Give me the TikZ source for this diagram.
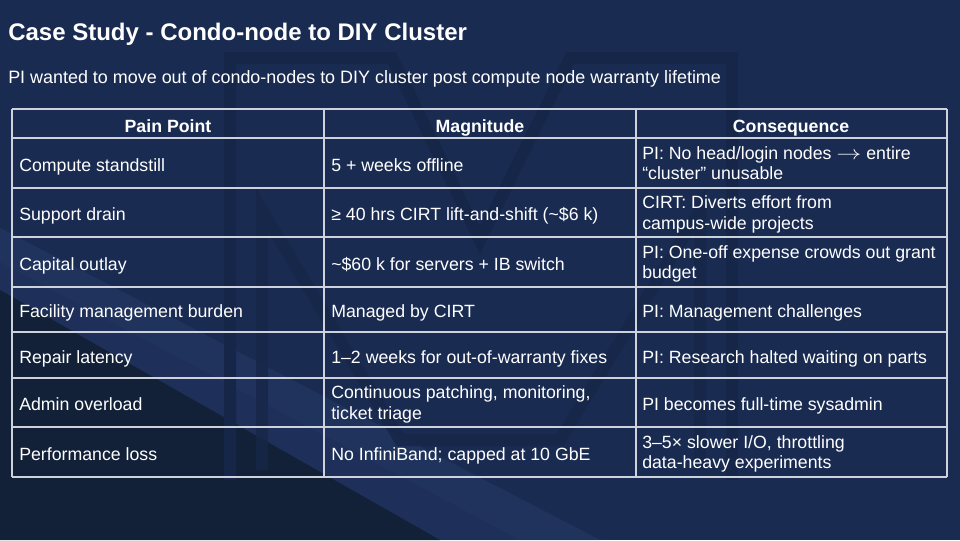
\documentclass[tikz,border=0pt]{standalone}
\usepackage{fontspec}
\setmainfont{Liberation Sans}
\newcommand{\longarr}{\scalebox{1.3}[1]{$\rightarrow$}}
\begin{document}
\begin{tikzpicture}[x=0.75pt,y=-0.75pt,
  cell/.style={anchor=west,inner sep=0pt,text=white,align=left,font=\fontsize{13.3}{15.5}\selectfont},
  head/.style={anchor=base,inner sep=0pt,text=white,font=\fontsize{13.3}{15.5}\selectfont\bfseries},
  grid/.style={draw=tline,line width=1pt},
  logo/.style={draw=logoc,line width=9pt,line join=miter}]
\definecolor{bgc}{RGB}{26,43,82}
\definecolor{darkc}{RGB}{18,33,56}
\definecolor{streak}{RGB}{40,62,108}
\definecolor{logoc}{RGB}{22,38,72}
\definecolor{tline}{RGB}{205,210,220}
\useasboundingbox (0,0) rectangle (960,540);
\fill[bgc] (0,0) rectangle (960,540);
% diagonal streaks and dark lower-left
\fill[streak,opacity=0.45] (0,228) -- (0,262) -- (520,540) -- (600,540) -- cycle;
\fill[streak,opacity=0.3] (0,262) -- (0,290) -- (440,540) -- (520,540) -- cycle;
\fill[darkc] (0,290) -- (0,540) -- (440,540) -- cycle;
% faint block-M logo outline
\draw[logo] (230,480) -- (230,58) -- (392,58) -- (480,240) -- (570,58) -- (732,58) -- (732,480);
\draw[logo,opacity=0.8] (262,470) -- (262,210) -- (400,440) -- (560,440) -- (700,210) -- (700,470);

% title and subtitle
\node[anchor=base west,inner sep=0pt,text=white,font=\fontsize{18}{22}\selectfont\bfseries] (title) at (8,40) {Case Study - Condo-node to DIY Cluster};
\node[anchor=base west,inner sep=0pt,text=white,font=\fontsize{13.45}{16}\selectfont] (sub) at (8,83.5) {PI wanted to move out of condo-nodes to DIY cluster post compute node warranty lifetime};

% table grid
\foreach \yy in {109,138,188,237,287,332,378,427,477} \draw[grid] (12,\yy) -- (947,\yy);
\foreach \xx in {12,324,636,947} \draw[grid] (\xx,109) -- (\xx,477);

% header
\node[head] (h1) at (168,132) {Pain Point};
\node[head] (h2) at (480,132) {Magnitude};
\node[head] (h3) at (791,132) {Consequence};

% column 1
\node[cell] (a1) at (19,167) {\strut Compute standstill};
\node[cell] (a2) at (19,216.5) {\strut Support drain};
\node[cell] (a3) at (19,266) {\strut Capital outlay};
\node[cell] (a4) at (19,313.5) {\strut Facility management burden};
\node[cell] (a5) at (19,359) {\strut Repair latency};
\node[cell] (a6) at (19,406.5) {\strut Admin overload};
\node[cell] (a7) at (19,456) {\strut Performance loss};

% column 2
\node[cell] (b1) at (331,167) {\strut 5 + weeks offline};
\node[cell] (b2) at (331,216.5) {\strut ≥ 40 hrs CIRT lift-and-shift (\textasciitilde\$6 k)};
\node[cell] (b3) at (331,266) {\strut \textasciitilde\$60 k for servers + IB switch};
\node[cell] (b4) at (331,313.5) {\strut Managed by CIRT};
\node[cell] (b5) at (331,359) {\strut 1–2 weeks for out-of-warranty fixes};
\node[cell] (b6) at (331,405) {\strut Continuous patching, monitoring,\\\strut ticket triage};
\node[cell] (b7) at (331,456) {\strut No InfiniBand; capped at 10 GbE};

% column 3
\node[cell] (c1) at (642,165.5) {\strut PI: No head/login nodes \longarr\ entire\\\strut “cluster” unusable};
\node[cell] (c2) at (642,215) {\strut CIRT: Diverts effort from\\\strut campus-wide projects};
\node[cell] (c3) at (642,264.5) {\strut PI: One-off expense crowds out grant\\\strut budget};
\node[cell] (c4) at (642,313.5) {\strut PI: Management challenges};
\node[cell] (c5) at (642,359) {\strut PI: Research halted waiting on parts};
\node[cell] (c6) at (642,406.5) {\strut PI becomes full-time sysadmin};
\node[cell] (c7) at (642,454.5) {\strut 3–5× slower I/O, throttling\\\strut data-heavy experiments};
\end{tikzpicture}
\end{document}
